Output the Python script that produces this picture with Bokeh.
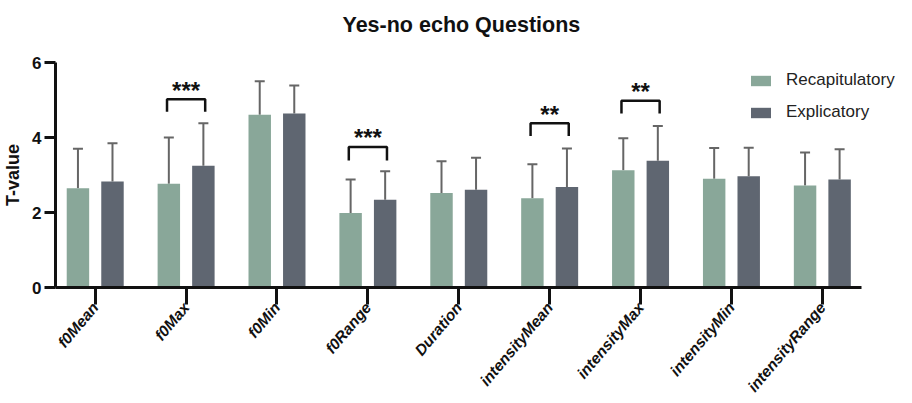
import math
from bokeh.plotting import figure
from bokeh.models import (ColumnDataSource, Range1d, FixedTicker, Whisker, TeeHead,
                          Legend, LegendItem)
from bokeh.transform import dodge
from bokeh.core.properties import value
from bokeh.embed import file_html
from bokeh.resources import INLINE

# ---- data ----
categories = ["f0Mean", "f0Max", "f0Min", "f0Range", "Duration",
              "intensityMean", "intensityMax", "intensityMin", "intensityRange"]
recap_mean = [2.65, 2.77, 4.61, 1.99, 2.52, 2.38, 3.13, 2.90, 2.72]
recap_sd = [1.05, 1.23, 0.89, 0.89, 0.85, 0.91, 0.85, 0.82, 0.88]
expl_mean = [2.83, 3.25, 4.64, 2.34, 2.61, 2.68, 3.38, 2.97, 2.88]
expl_sd = [1.02, 1.13, 0.75, 0.76, 0.85, 1.03, 0.93, 0.76, 0.81]
series_names = ["Recapitulatory", "Explicatory"]
y_ticks = [0, 2, 4, 6]

sig_index = [1, 3, 5, 6]
sig_text = ["***", "***", "**", "**"]
sig_top = [5.02, 3.75, 4.38, 4.98]
sig_drop = [0.33, 0.36, 0.34, 0.34]

# ---- styling ----
GREEN = "#89a799"
DARK = "#5f6671"
FONT = "Liberation Sans"
OFF = 0.19
BW = 0.247

xs = list(range(len(categories)))
src = ColumnDataSource(dict(
    x=xs,
    r=recap_mean, r_up=[m + s for m, s in zip(recap_mean, recap_sd)],
    e=expl_mean, e_up=[m + s for m, s in zip(expl_mean, expl_sd)],
))

p = figure(width=896, height=403, output_backend="svg", toolbar_location=None,
           x_range=Range1d(-0.437, 8.816), y_range=Range1d(0, 6),
           min_border_left=53, min_border_top=62, min_border_right=0,
           min_border_bottom=116,
           title="Yes-no echo Questions\n")
p.outline_line_color = None
p.grid.visible = False
p.background_fill_color = "white"
p.border_fill_color = "white"

p.title.text_font = FONT
p.title.text_font_size = "21.5px"
p.title.text_font_style = "bold"
p.title.text_color = "#111111"
p.title.align = "left"
p.title.offset = 287
p.title.vertical_align = "top"
p.title.standoff = 0

r1 = p.vbar(x=dodge("x", -OFF, range=p.x_range), top="r", width=BW, source=src,
            fill_color=GREEN, line_color=None)
r2 = p.vbar(x=dodge("x", OFF, range=p.x_range), top="e", width=BW, source=src,
            fill_color=DARK, line_color=None)

for off, lo, hi in [(-OFF, "r", "r_up"), (OFF, "e", "e_up")]:
    w = Whisker(source=src, base=dodge("x", off, range=p.x_range), lower=lo, upper=hi,
                dimension="height", line_color="#666666", line_width=2,
                lower_head=None,
                upper_head=TeeHead(size=10, line_color="#666666", line_width=2))
    p.add_layout(w)

# significance brackets
bx, by = [], []
for i, top, d in zip(sig_index, sig_top, sig_drop):
    bx.append([i - 0.21, i - 0.21, i + 0.21, i + 0.21])
    by.append([top - d, top, top, top - d])
p.multi_line(bx, by, line_color="#111111", line_width=2.5)
p.text(x=sig_index, y=sig_top, text=sig_text, text_font=value(FONT),
       text_font_size="24px", text_font_style="bold", text_color="#111111",
       text_align="center", text_baseline="alphabetic", y_offset=-9)

# axes
xa = p.xaxis[0]
xa.bounds = (-0.437, 8.43)
xa.ticker = FixedTicker(ticks=xs)
xa.major_label_overrides = {i: c for i, c in zip(xs, categories)}
xa.major_label_orientation = 0.87
xa.major_label_text_font = FONT
xa.major_label_text_font_size = "15.5px"
xa.major_label_text_font_style = "bold italic"
xa.major_label_text_color = "#111111"
xa.major_label_standoff = 0
xa.axis_line_width = 3
xa.axis_line_color = "#111111"
xa.major_tick_line_width = 3
xa.major_tick_line_color = "#111111"
xa.major_tick_out = 17
xa.major_tick_in = 0
xa.minor_tick_line_color = None

ya = p.yaxis[0]
ya.ticker = FixedTicker(ticks=y_ticks)
ya.axis_label = "T-value"
ya.axis_label_text_font = FONT
ya.axis_label_text_font_size = "18px"
ya.axis_label_text_font_style = "bold"
ya.axis_label_text_color = "#111111"
ya.axis_label_standoff = 6
ya.major_label_text_font = FONT
ya.major_label_text_font_size = "17px"
ya.major_label_text_font_style = "bold"
ya.major_label_text_color = "#111111"
ya.major_label_standoff = 3
ya.axis_line_width = 3
ya.axis_line_color = "#111111"
ya.major_tick_line_width = 3
ya.major_tick_line_color = "#111111"
ya.major_tick_out = 11
ya.major_tick_in = 0
ya.minor_tick_line_color = None

legend = Legend(items=[LegendItem(label=series_names[0], renderers=[r1]),
                       LegendItem(label=series_names[1], renderers=[r2])],
                location=(693, 165), padding=0, margin=0, spacing=12,
                glyph_width=25, glyph_height=13, label_standoff=13,
                label_text_font=FONT, label_text_font_size="17px",
                label_text_color="#222222",
                border_line_color=None, background_fill_alpha=0)
p.add_layout(legend, "center")

open("out.html", "w").write(file_html(p, INLINE))
